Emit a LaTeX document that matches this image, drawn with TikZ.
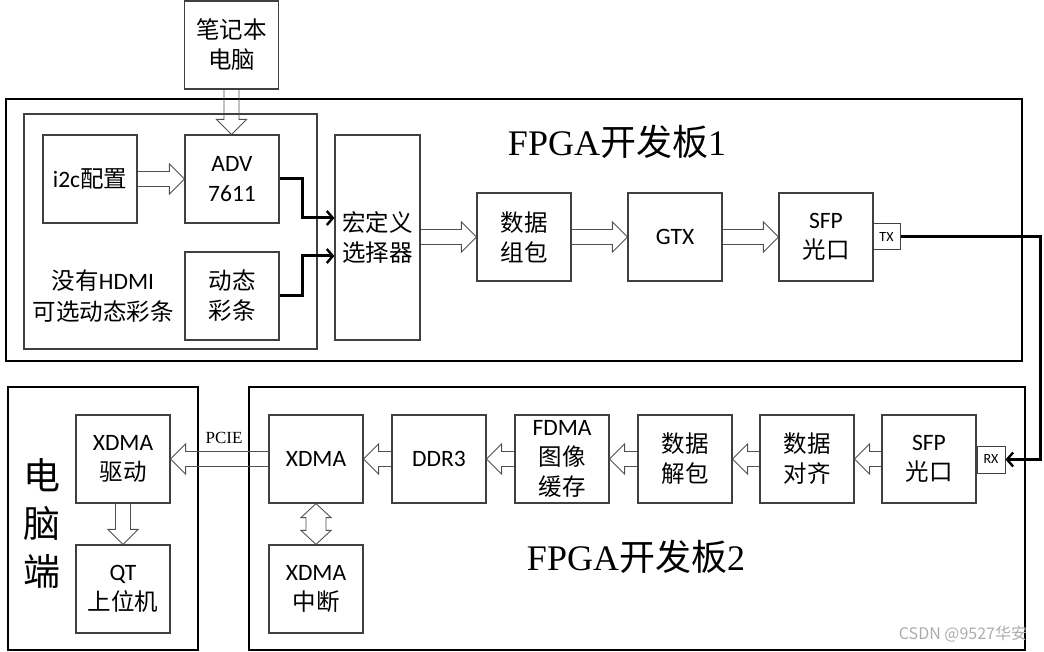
\documentclass[tikz,border=0pt]{standalone}
\usepackage{fontspec}
\setmainfont{Carlito}
\newfontfamily\cjk{Noto Sans CJK SC}
\newfontfamily\tnr{Liberation Serif}
\usetikzlibrary{arrows.meta,calc}
\definecolor{boxgray}{HTML}{404040}
\definecolor{arrgray}{HTML}{505050}
\begin{document}
\begin{tikzpicture}[x=1pt,y=-1pt,
  box/.style={draw=boxgray,line width=1.2pt,minimum width=94pt,minimum height=88pt,inner sep=0pt,align=center,font=\fontsize{23.5}{30}\selectfont},
  board/.style={draw=black,line width=2pt,inner sep=0pt},
  frame/.style={draw=boxgray,line width=1.2pt,inner sep=0pt},
  port/.style={draw=boxgray,line width=1pt,inner sep=0pt,minimum width=27pt,minimum height=26pt,font=\fontsize{14}{14}\selectfont},
  title/.style={inner sep=0pt,font=\fontsize{36}{36}\selectfont},
  conn/.style={draw=black,line width=3pt,-{Straight Barb[length=6pt,width=14pt,line width=2.4pt]}},
  hollow/.style={draw=arrgray,line width=0.9pt},
  harr/.style={hollow,to path={let \p1=(\tikztostart),\p2=(\tikztotarget),\n1={ifthenelse(\x2>\x1,15,-15)} in
    (\x1,\y1+7.5pt) -- (\x2-\n1*1pt,\y1+7.5pt) -- (\x2-\n1*1pt,\y1+15pt) -- (\x2,\y1) -- (\x2-\n1*1pt,\y1-15pt) -- (\x2-\n1*1pt,\y1-7.5pt) -- (\x1,\y1-7.5pt)}},
  varr/.style={hollow,to path={let \p1=(\tikztostart),\p2=(\tikztotarget),\n1={ifthenelse(\y2>\y1,15,-15)} in
    (\x1+7.5pt,\y1) -- (\x1+7.5pt,\y2-\n1*1pt) -- (\x1+15pt,\y2-\n1*1pt) -- (\x1,\y2) -- (\x1-15pt,\y2-\n1*1pt) -- (\x1-7.5pt,\y2-\n1*1pt) -- (\x1-7.5pt,\y1)}},
  dvarr/.style={hollow,to path={let \p1=(\tikztostart),\p2=(\tikztotarget),\n1={ifthenelse(\y2>\y1,14,-14)} in
    (\x1,\y1) -- (\x1+15pt,\y1+\n1*1pt) -- (\x1+10pt,\y1+\n1*1pt) -- (\x1+10pt,\y2-\n1*1pt) -- (\x1+15pt,\y2-\n1*1pt) -- (\x1,\y2) -- (\x1-15pt,\y2-\n1*1pt) -- (\x1-10pt,\y2-\n1*1pt) -- (\x1-10pt,\y1+\n1*1pt) -- (\x1-15pt,\y1+\n1*1pt) -- cycle}}
]
\useasboundingbox (0,0) rectangle (1044,652);

% ---------- board 1 ----------
\node[board,minimum width=1016pt,minimum height=262pt] (b1) at (514,230) {};
\node[frame,minimum width=293pt,minimum height=235pt] (inner) at (170.5,231.5) {};
\node[box] (nb) at (231.5,45) {{\cjk 笔记本}\\{\cjk 电脑}};
\node[box] (i2c) at (90,179) {i2c{\cjk 配置}};
\node[box] (adv) at (232,179) {ADV\\7611};
\node[box] (bar) at (232,296) {{\cjk 动态}\\{\cjk 彩条}};
\node[align=center,inner sep=0pt,font=\fontsize{23.5}{31}\selectfont] (nohdmi) at (103,296) {{\cjk 没有}HDMI\\{\cjk 可选动态彩条}};
\node[box,minimum width=85pt,minimum height=205pt] (sel) at (377.5,237.5) {{\cjk 宏定义}\\{\cjk 选择器}};
\node[box] (pack) at (524,237) {{\cjk 数据}\\{\cjk 组包}};
\node[box] (gtx) at (675,237) {GTX};
\node[box] (sfp1) at (826,237) {SFP\\{\cjk 光口}};
\node[port] (tx) at (886.5,237) {TX};
\node[title] (t1) at (617,142) {{\tnr FPGA}{\cjk 开发板}{\tnr 1}};

% ---------- PC side ----------
\node[board,minimum width=190pt,minimum height=263pt] (pc) at (103,518.5) {};
\node[inner sep=0pt,font=\fontsize{37}{37}\selectfont\cjk] (pc1) at (42,475) {电};
\node[inner sep=0pt,font=\fontsize{37}{37}\selectfont\cjk] (pc2) at (42,524) {脑};
\node[inner sep=0pt,font=\fontsize{37}{37}\selectfont\cjk] (pc3) at (42,572) {端};
\node[box] (drv) at (123,459) {XDMA\\{\cjk 驱动}};
\node[box] (qt) at (123,589) {QT\\{\cjk 上位机}};

% ---------- board 2 ----------
\node[board,minimum width=776pt,minimum height=263pt] (b2) at (637,518.5) {};
\node[box] (xdma) at (316,459) {XDMA};
\node[box] (xint) at (316,589) {XDMA\\{\cjk 中断}};
\node[box] (ddr) at (439,459) {DDR3};
\node[box] (fdma) at (562,459) {FDMA\\{\cjk 图像}\\{\cjk 缓存}};
\node[box] (unpack) at (685,459) {{\cjk 数据}\\{\cjk 解包}};
\node[box] (align) at (807,459) {{\cjk 数据}\\{\cjk 对齐}};
\node[box] (sfp2) at (929,459) {SFP\\{\cjk 光口}};
\node[port,minimum width=28pt,minimum height=27pt] (rx) at (991,459.5) {RX};
\node[title] (t2) at (636,557) {{\tnr FPGA}{\cjk 开发板}{\tnr 2}};
\node[inner sep=0pt,font=\fontsize{17}{17}\selectfont\tnr] (pcie) at (224,438) {PCIE};
\node[inner sep=0pt,text=gray!65,font=\fontsize{16}{16}\selectfont\cjk] (wm) at (963,634) {CSDN @9527华安};

% ---------- hollow arrows ----------
\draw[varr] (nb.south) to (adv.north);
\draw[harr] (i2c.east) to (adv.west);
\draw[harr] (sel.east|-pack.west) to (pack.west);
\draw[harr] (pack.east) to (gtx.west);
\draw[harr] (gtx.east) to (sfp1.west);
\draw[harr] (sfp2.west) to (align.east);
\draw[harr] (align.west) to (unpack.east);
\draw[harr] (unpack.west) to (fdma.east);
\draw[harr] (fdma.west) to (ddr.east);
\draw[harr] (ddr.west) to (xdma.east);
\draw[harr] (xdma.west) to (drv.east);
\draw[varr] (drv.south) to (qt.north);
\draw[dvarr] (xdma.south) to (xint.north);

% ---------- thick connectors ----------
\draw[conn] (adv.east) -- ++(23,0) |- ([yshift=19.5pt]sel.west);
\draw[conn] (bar.east) -- ++(23,0) |- ([yshift=-18.5pt]sel.west);
\draw[conn] (tx.east) -- ++(140,0) |- (rx.east);
\end{tikzpicture}
\end{document}
